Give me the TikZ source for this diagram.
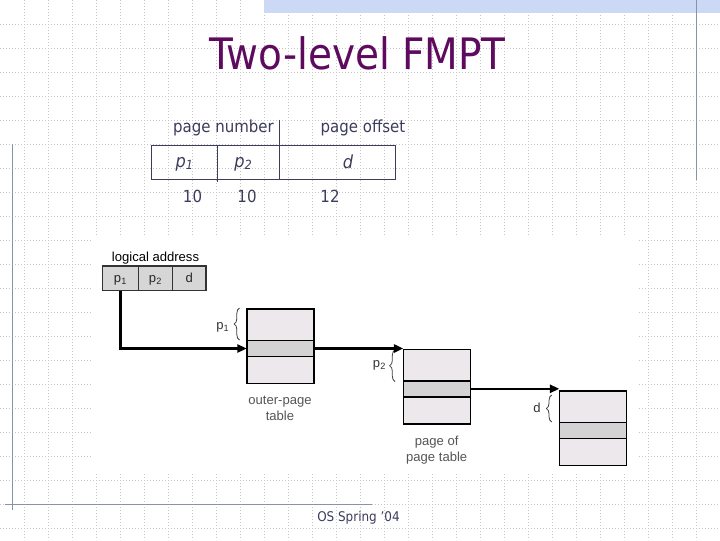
\documentclass[tikz,border=0pt]{standalone}
\usepackage{fontspec}
\setmainfont[FakeStretch=0.9]{DejaVu Sans}
\newfontfamily\figfont{Liberation Sans}
\usetikzlibrary{arrows.meta,decorations.pathreplacing}
\definecolor{titlepurple}{HTML}{5E0A5E}
\definecolor{slidetext}{HTML}{3C3C5C}
\definecolor{bandblue}{HTML}{CBD9F6}
\definecolor{ruleblue}{HTML}{8A92AA}
\definecolor{gridgray}{HTML}{C4C4C4}
\definecolor{cellpale}{HTML}{ECE8EC}
\definecolor{cellmid}{HTML}{D3D3D3}
\definecolor{addrgray}{HTML}{D6D6D6}
\definecolor{labelgray}{HTML}{555555}
\newcommand{\pagetable}[3]{%
  \node[pagerow, fill=cellpale, minimum height=31.5*0.75pt] (#1a) at (#2,#3) {};
  \node[pagerow, fill=cellmid, minimum height=16*0.75pt] (#1b) at (#1a.south west) {};
  \node[pagerow, fill=cellpale, minimum height=27*0.75pt] (#1c) at (#1b.south west) {};
}
\tikzset{
  gridline/.style={draw=gridgray, line width=0.6pt, dash pattern=on 0.75pt off 1.5pt},
  rulepath/.style={draw=ruleblue, line width=1.1pt},
  slidetxt/.style={text=slidetext, inner sep=0pt, anchor=base, font=\fontsize{12.5}{15}\selectfont},
  figtxt/.style={inner sep=0pt, anchor=base, font=\figfont\fontsize{9.8}{12}\selectfont},
  topcell/.style={draw=slidetext, line width=0.8pt, inner sep=0pt, outer sep=0pt, anchor=north west, minimum height=33.6*0.75pt},
  addrcell/.style={draw=black!80, fill=addrgray, line width=1pt, inner sep=0pt, outer sep=0pt, anchor=north west, minimum height=24.7*0.75pt},
  pagerow/.style={draw=black, line width=1.2pt, inner sep=0pt, outer sep=0pt, anchor=north west, minimum width=67*0.75pt},
  flow/.style={line width=1.8pt, -{Triangle[length=7pt,width=6pt]}},
  brc/.style={decorate, decoration={brace, amplitude=4pt}, draw=black!75, line width=0.6pt},
}
\begin{document}
\begin{tikzpicture}[x=0.75pt, y=-0.75pt]
\useasboundingbox (0,0) rectangle (720,540);
\fill[white] (0,0) rectangle (720,540);
% background grid
\foreach \i in {1,...,29} \draw[gridline] (\i*24,0) -- (\i*24,540);
\foreach \j in {1,...,22} \draw[gridline] (0,\j*24) -- (720,\j*24);
% slide decorations
\fill[bandblue] (264,0) rectangle (720,13);
\draw[rulepath] (696.5,0) -- (696.5,180);
\draw[rulepath] (12.5,144) -- (12.5,510);
\draw[rulepath] (5,504.5) -- (372,504.5);
% white area of the figure
\fill[white] (92,237) rectangle (637,473);
% title
\node[text=titlepurple, inner sep=0pt, anchor=base, font=\fontsize{32.5}{38}\selectfont] (title) at (357.5,69.3) {Two-level FMPT};
% address format table
\node[slidetxt] (pn) at (223.5,132.5) {page number};
\node[slidetxt] (po) at (363,132.5) {page offset};
\node[topcell, minimum width=66*0.75pt] (t1) at (151.7,145.7) {};
\node[topcell, minimum width=61.6*0.75pt] (t2) at (t1.north east) {};
\node[topcell, minimum width=116.4*0.75pt] (t3) at (t2.north east) {};
\draw[draw=slidetext, line width=0.8pt] (t2.north east) ++(0,-26) coordinate (sepTop) -- (t2.south east);
\draw[draw=slidetext, line width=0.8pt] (t1.south east) -- ++(0,2.5) coordinate (sepBot);
\node[slidetxt, font=\fontsize{13.5}{16}\selectfont\itshape] (tp1) at (184.7,167) {p\textsubscript{1}};
\node[slidetxt, font=\fontsize{13.5}{16}\selectfont\itshape] (tp2) at (243.5,167) {p\textsubscript{2}};
\node[slidetxt, font=\fontsize{13.5}{16}\selectfont\itshape] (td) at (348,168) {d};
\node[slidetxt] (n1) at (192.5,202) {10};
\node[slidetxt] (n2) at (247,202) {10};
\node[slidetxt] (n3) at (330,202) {12};
% logical address
\node[figtxt] (lalab) at (155.5,261) {logical address};
\node[addrcell, minimum width=35.6*0.75pt] (l1) at (102.7,266) {};
\node[addrcell, minimum width=34.4*0.75pt] (l2) at (l1.north east) {};
\node[addrcell, minimum width=33.3*0.75pt] (l3) at (l2.north east) {};
\node[figtxt, text=black!85] (lp1) at (l1.center |- 0,282) {p\textsubscript{1}};
\node[figtxt, text=black!85] (lp2) at (l2.center |- 0,282) {p\textsubscript{2}};
\node[figtxt, text=black!85] (ld) at (l3.center |- 0,282) {d};
% page tables
\pagetable{out}{246.7}{309}
\pagetable{pg}{403.3}{349.3}
\pagetable{pf}{559.3}{391}
% braces and their labels
\draw[brc] (239.5,340) -- (239.5,308);
\draw[brc] (395,381.5) -- (395,350);
\draw[brc] (551.7,422) -- (551.7,395);
\node[figtxt, text=black!80] (bp1) at (222.8,329) {p\textsubscript{1}};
\node[figtxt, text=black!80] (bp2) at (379.5,367) {p\textsubscript{2}};
\node[figtxt, text=black!80] (bd) at (537,412) {d};
% captions
\node[figtxt, text=labelgray] (c1a) at (280,404) {outer-page};
\node[figtxt, text=labelgray] (c1b) at (280,420) {table};
\node[figtxt, text=labelgray] (c2a) at (436.7,445) {page of};
\node[figtxt, text=labelgray] (c2b) at (436.7,461) {page table};
% arrows
\draw[flow] (l1.south) -- (l1.south |- outb.west) -- (outb.west);
\draw[flow] (outb.east) -- (outb.east -| pga.north west);
\draw[flow] (pgb.east) -- (pgb.east -| pfa.north west);
% footer
\node[slidetxt, font=\fontsize{10}{12}\selectfont] (foot) at (358.5,521.7) {OS Spring ’04};
\end{tikzpicture}
\end{document}
